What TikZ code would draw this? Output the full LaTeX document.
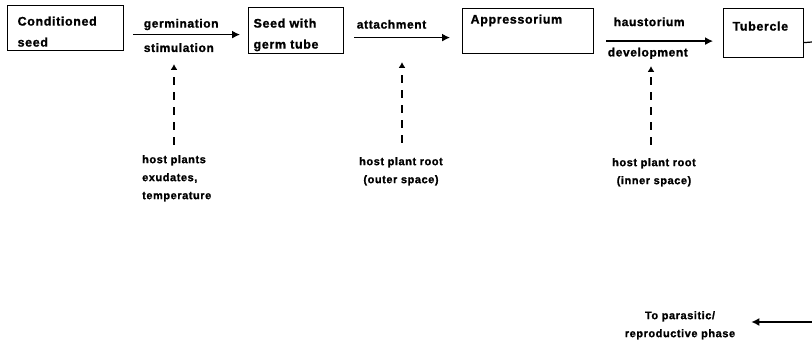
\documentclass[tikz,border=0pt]{standalone}
\usepackage{fontspec}
\setmainfont{Liberation Sans}
\newfontfamily\diafont[LetterSpace=5,FakeBold=1.2]{Liberation Sans}
\usetikzlibrary{arrows.meta}
\usetikzlibrary{positioning}
\tikzstyle{stage}=[draw=black, line width=1.2pt, rectangle, anchor=north west, align=left, inner ysep=0pt, font=\diafont\bfseries\fontsize{12.5}{21}\selectfont]
\tikzstyle{flow}=[line width=1.3pt, -{Latex[length=8pt,width=8pt]}]
\tikzstyle{cue}=[line width=1.4pt, dash pattern=on 8pt off 7pt, -{Latex[length=6pt,width=7pt]}]
\tikzstyle{steplabel}=[inner sep=0pt, font=\diafont\bfseries\fontsize{12}{18}\selectfont]
\tikzstyle{note}=[inner sep=0pt, font=\diafont\bfseries\fontsize{11}{18}\selectfont]

\begin{document}
\begin{tikzpicture}[x=1pt, y=-1pt]
    \useasboundingbox (0,0) rectangle (812,344);

    % Stages of the parasite
    \node[stage, minimum width=116pt, minimum height=45pt, inner xsep=10pt, text width=96pt, text height=20pt, text depth=25pt] (cond) at (7,5) {Conditioned\\seed};
    \node[stage, minimum width=95pt, minimum height=46pt, inner xsep=5pt, text width=85pt, text height=20pt, text depth=26pt] (germ) at (248,7) {Seed with\\germ tube};
    \node[stage, minimum width=131pt, minimum height=45pt, inner xsep=8pt, text width=115pt, text height=15pt, text depth=30pt] (appr) at (462,8) {Appressorium\\\strut};
    \node[stage, minimum width=80pt, minimum height=49pt, inner xsep=9pt, text width=62pt, text height=22pt, text depth=27pt] (tub) at (723,8) {Tubercle\\\strut};

    % Transitions between stages
    \draw[flow] ([xshift=9pt,yshift=-6.5pt]cond.east) --
        node[steplabel, pos=0, anchor=base west, xshift=10pt, yshift=7pt] (germlbl) {germination}
        node[steplabel, pos=0, anchor=north west, xshift=10pt, yshift=-8pt] (stim) {stimulation}
        ([xshift=-8pt,yshift=-4pt]germ.west);
    \draw[flow] ([xshift=10pt,yshift=-7pt]germ.east) --
        node[steplabel, pos=0, anchor=base west, xshift=2pt, yshift=9pt] (attlbl) {attachment}
        ([xshift=-12pt,yshift=-6.5pt]appr.west);
    \draw[flow] ([xshift=12pt,yshift=-10pt]appr.east) --
        node[steplabel, pos=0, anchor=base west, xshift=7pt, yshift=15pt] (hauslbl) {haustorium}
        node[steplabel, pos=0, anchor=north west, xshift=1pt, yshift=-6pt] (devlbl) {development}
        ([xshift=-10pt,yshift=-8pt]tub.west);
    \coordinate (out) at (812,42);
    \draw[line width=1.2pt] ([yshift=-9.5pt]tub.east) -- (out);

    % Host factors
    \coordinate (tip1) at (174,64);
    \coordinate (tip2) at (402,62);
    \coordinate (tip3) at (651,66);
    \node[note, anchor=north west, align=left] (host1) at (142,155) {host plants\\exudates,\\temperature};
    \node[note, anchor=north, align=center] (root1) at (401,157) {host plant root\\(outer space)};
    \node[note, anchor=north, align=center] (root2) at (654,158) {host plant root\\(inner space)};

    \draw[cue, shorten <=10pt] (host1.north -| tip1) -- (tip1);
    \draw[cue, shorten <=14pt] (root1.north -| tip2) -- (tip2);
    \draw[cue, shorten <=13pt] (root2.north -| tip3) -- (tip3);

    % Return to the next phase
    \node[note, anchor=north, align=center] (phase) at (680,311) {To parasitic/\\reproductive phase};
    \coordinate (ret) at (812,322);
    \draw[flow, shorten >=16pt] (ret) -- (ret -| phase.east);
\end{tikzpicture}
\end{document}
